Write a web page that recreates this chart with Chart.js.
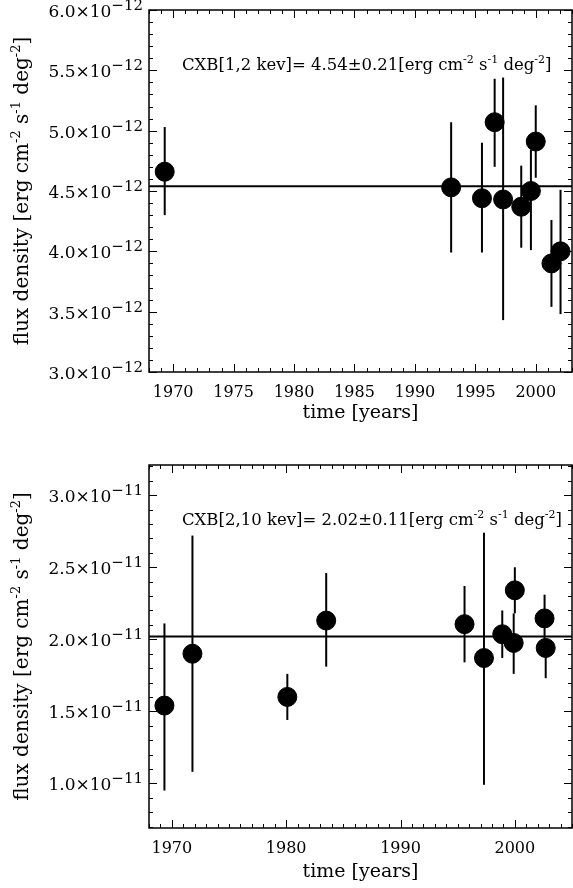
<!DOCTYPE html>
<html>
<head>
<meta charset="utf-8">
<script src="https://cdn.jsdelivr.net/npm/chart.js"></script>
<style>
  body { margin: 0; background: #fff; }
  #wrap { position: relative; width: 573px; height: 888px; }
  canvas { position: absolute; left: 0; }
</style>
</head>
<body>
<div id="wrap">
  <canvas id="soft" width="573" height="440" style="top:0;width:573px;height:440px"></canvas>
  <canvas id="hard" width="573" height="448" style="top:440px;width:573px;height:448px"></canvas>
</div>
<script>
// CXB 1-2 keV, flux in units of 1e-12 erg cm^-2 s^-1 deg^-2
const softYears = [1969.3, 1993.0, 1995.55, 1996.6, 1997.3, 1998.8, 1999.6, 2000.0, 2001.3, 2002.05];
const softFlux  = [4.66, 4.53, 4.44, 5.07, 4.43, 4.37, 4.50, 4.91, 3.90, 4.00];
const softHi    = [5.03, 5.07, 4.90, 5.43, 5.44, 4.71, 4.84, 5.21, 4.26, 4.51];
const softLo    = [4.30, 3.99, 3.99, 4.70, 3.43, 4.03, 4.01, 4.61, 3.54, 3.48];
const softMean  = 4.54;
const softXTicks = [1970, 1975, 1980, 1985, 1990, 1995, 2000];
const softYTicks = [3.0, 3.5, 4.0, 4.5, 5.0, 5.5, 6.0];

// CXB 2-10 keV, flux in units of 1e-11 erg cm^-2 s^-1 deg^-2
const hardYears = [1969.35, 1971.8, 1980.1, 1983.5, 1995.6, 1997.3, 1998.9, 1999.9, 2000.0, 2002.6, 2002.7];
const hardFlux  = [1.54, 1.90, 1.60, 2.13, 2.105, 1.87, 2.035, 1.975, 2.34, 2.145, 1.94];
const hardHi    = [2.11, 2.72, 1.76, 2.46, 2.37, 2.74, 2.20, 2.18, 2.50, 2.31, 2.00];
const hardLo    = [0.95, 1.08, 1.44, 1.81, 1.84, 0.99, 1.87, 1.76, 2.18, 1.97, 1.73];
const hardMean  = 2.02;
const hardXTicks = [1970, 1980, 1990, 2000];
const hardYTicks = [1.0, 1.5, 2.0, 2.5, 3.0];

const FONT = '"DejaVu Serif", serif';

function richWidth(ctx, parts, size, supSize) {
  let w = 0;
  parts.forEach(p => {
    ctx.font = (p.sup ? supSize : size) + 'px ' + FONT;
    w += ctx.measureText(p.t).width;
  });
  return w;
}

function drawRich(ctx, parts, x, y, align, size, supSize, rise) {
  let w = richWidth(ctx, parts, size, supSize);
  let cx = align === 'right' ? x - w : align === 'center' ? x - w / 2 : x;
  ctx.textAlign = 'left';
  ctx.textBaseline = 'alphabetic';
  parts.forEach(p => {
    ctx.font = (p.sup ? supSize : size) + 'px ' + FONT;
    ctx.fillText(p.t, cx, p.sup ? y - rise : y);
    cx += ctx.measureText(p.t).width;
  });
}

function units(pre) {
  return [{t: pre + 'cm'}, {t: '-2', sup: true}, {t: ' s'}, {t: '-1', sup: true},
          {t: ' deg'}, {t: '-2', sup: true}, {t: ']'}];
}

// error bars, box, inward ticks and all texts
function framePlugin(o) {
  return {
    id: 'frame',
    beforeDatasetsDraw(chart) {
      const ctx = chart.ctx, xs = chart.scales.x, ys = chart.scales.y;
      ctx.save();
      ctx.strokeStyle = '#000';
      ctx.lineWidth = 2;
      o.years.forEach((yr, i) => {
        const px = xs.getPixelForValue(yr);
        ctx.beginPath();
        ctx.moveTo(px, ys.getPixelForValue(o.lo[i]));
        ctx.lineTo(px, ys.getPixelForValue(o.hi[i]));
        ctx.stroke();
      });
      ctx.restore();
    },
    afterDatasetsDraw(chart) {
      const ctx = chart.ctx, a = chart.chartArea, xs = chart.scales.x, ys = chart.scales.y;
      ctx.save();
      ctx.strokeStyle = '#000';
      ctx.fillStyle = '#000';
      ctx.lineWidth = 1.5;
      ctx.strokeRect(a.left, a.top, a.right - a.left, a.bottom - a.top);

      ctx.lineWidth = 1;
      ctx.beginPath();
      for (let v = Math.ceil(xs.min); v <= xs.max; v++) {
        const px = Math.round(xs.getPixelForValue(v)) + 0.5;
        const len = o.xTicks.includes(v) ? 8 : 4;
        ctx.moveTo(px, a.bottom); ctx.lineTo(px, a.bottom - len);
        ctx.moveTo(px, a.top); ctx.lineTo(px, a.top + len);
      }
      for (let k = Math.ceil(ys.min * 10 - 1e-6); k <= Math.floor(ys.max * 10 + 1e-6); k++) {
        const py = Math.round(ys.getPixelForValue(k / 10)) + 0.5;
        const len = k % 5 === 0 ? 8 : 4;
        ctx.moveTo(a.left, py); ctx.lineTo(a.left + len, py);
        ctx.moveTo(a.right, py); ctx.lineTo(a.right - len, py);
      }
      ctx.stroke();

      // x tick labels
      ctx.font = '16px ' + FONT;
      ctx.textAlign = 'center';
      ctx.textBaseline = 'middle';
      o.xTicks.forEach(v => ctx.fillText(String(v), xs.getPixelForValue(v), a.bottom + 21));

      // y tick labels
      o.yTicks.forEach(v => {
        const py = ys.getPixelForValue(v);
        drawRich(ctx, [{t: v.toFixed(1) + '×10'}, {t: o.exp, sup: true}],
                 a.left - 6, py + 7, 'right', 17, 15, 7);
      });

      // x title
      ctx.font = '19px ' + FONT;
      ctx.textAlign = 'center';
      ctx.textBaseline = 'middle';
      ctx.fillText('time [years]', (a.left + a.right) / 2, a.bottom + o.xTitleOff);

      // y title
      ctx.save();
      ctx.translate(22, (a.top + a.bottom) / 2);
      ctx.rotate(-Math.PI / 2);
      drawRich(ctx, units('flux density [erg '), 0, 6, 'center', 20, 13, 8);
      ctx.restore();

      // annotation
      drawRich(ctx, units(o.label), a.left + 33, a.top + 60, 'left', 16.5, 11, 7);
      ctx.restore();
    }
  };
}

function makeChart(id, o) {
  new Chart(document.getElementById(id), {
    type: 'scatter',
    data: {
      datasets: [{
        data: o.years.map((x, i) => ({x: x, y: o.flux[i]})),
        backgroundColor: '#000',
        borderColor: '#000',
        pointRadius: 9.5,
        pointBorderWidth: 1
      }, {
        type: 'line',
        data: [{x: o.xMin, y: o.mean}, {x: o.xMax, y: o.mean}],
        borderColor: '#000',
        borderWidth: 2,
        pointRadius: 0,
        fill: false
      }]
    },
    options: {
      responsive: false,
      animation: false,
      layout: { padding: o.pad, autoPadding: false },
      scales: {
        x: { type: 'linear', display: false, min: o.xMin, max: o.xMax },
        y: { type: 'linear', display: false, min: o.yMin, max: o.yMax }
      },
      plugins: { legend: { display: false }, tooltip: { enabled: false } }
    },
    plugins: [framePlugin(o)]
  });
}

makeChart('soft', {
  years: softYears, flux: softFlux, hi: softHi, lo: softLo, mean: softMean,
  xTicks: softXTicks, yTicks: softYTicks, exp: '−12',
  xMin: 1968, xMax: 2003, yMin: 3.0, yMax: 6.0,
  pad: {left: 149, top: 10, right: 1, bottom: 68},
  xTitleOff: 41,
  label: 'CXB[1,2 kev]= 4.54±0.21[erg '
});

makeChart('hard', {
  years: hardYears, flux: hardFlux, hi: hardHi, lo: hardLo, mean: hardMean,
  xTicks: hardXTicks, yTicks: hardYTicks, exp: '−11',
  xMin: 1968, xMax: 2005, yMin: 0.69, yMax: 3.21,
  pad: {left: 149, top: 25, right: 1, bottom: 60},
  xTitleOff: 44,
  label: 'CXB[2,10 kev]= 2.02±0.11[erg '
});
</script>
</body>
</html>
